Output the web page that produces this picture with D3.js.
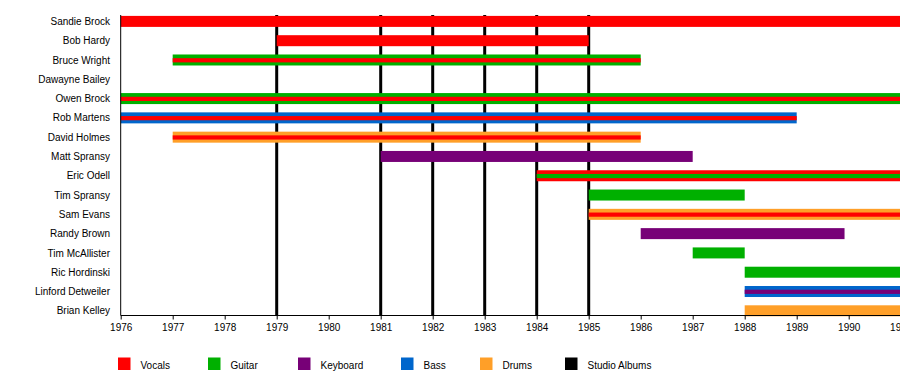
<!DOCTYPE html>
<html>
<head>
<meta charset="utf-8">
<script src="https://cdn.jsdelivr.net/npm/d3@7/dist/d3.min.js"></script>
<style>
  html, body { margin: 0; padding: 0; background: #fff; }
  svg { display: block; }
  text { font-family: "Liberation Sans", Arial, sans-serif; font-size: 10px; fill: #000; }
</style>
</head>
<body>
<svg id="chart" width="900" height="375"></svg>
<script>
// ---- data ----
const members = ["Sandie Brock", "Bob Hardy", "Bruce Wright", "Dawayne Bailey", "Owen Brock",
  "Rob Martens", "David Holmes", "Matt Spransy", "Eric Odell", "Tim Spransy", "Sam Evans",
  "Randy Brown", "Tim McAllister", "Ric Hordinski", "Linford Detweiler", "Brian Kelley"];

const roles = ["Vocals", "Guitar", "Keyboard", "Bass", "Drums", "Studio Albums"];
const roleColors = ["#ff0000", "#00b000", "#770077", "#0066cc", "#ff9f28", "#000000"];

// main bars: [member, role, start, end]
const mainBars = [
  ["Sandie Brock", "Vocals", 1976, 1991],
  ["Bob Hardy", "Vocals", 1979, 1985],
  ["Bruce Wright", "Guitar", 1977, 1986],
  ["Owen Brock", "Guitar", 1976, 1991],
  ["Rob Martens", "Bass", 1976, 1989],
  ["David Holmes", "Drums", 1977, 1986],
  ["Matt Spransy", "Keyboard", 1981, 1987],
  ["Eric Odell", "Vocals", 1984, 1991],
  ["Tim Spransy", "Guitar", 1985, 1988],
  ["Sam Evans", "Drums", 1985, 1991],
  ["Randy Brown", "Keyboard", 1986, 1989.92],
  ["Tim McAllister", "Guitar", 1987, 1988],
  ["Ric Hordinski", "Guitar", 1988, 1991],
  ["Linford Detweiler", "Bass", 1988, 1991],
  ["Brian Kelley", "Drums", 1988, 1991]
];

// inner stripes: [member, role, start, end]
const stripeBars = [
  ["Bruce Wright", "Vocals", 1977, 1986],
  ["Owen Brock", "Vocals", 1976, 1991],
  ["Rob Martens", "Vocals", 1976, 1989],
  ["David Holmes", "Vocals", 1977, 1986],
  ["Eric Odell", "Guitar", 1984, 1991],
  ["Sam Evans", "Vocals", 1985, 1991],
  ["Linford Detweiler", "Keyboard", 1988, 1991]
];

const albums = [1979, 1981, 1982, 1983, 1984, 1985];
const years = [1976, 1977, 1978, 1979, 1980, 1981, 1982, 1983, 1984, 1985, 1986, 1987, 1988, 1989, 1990, 1991];

// ---- drawing ----
const svg = d3.select("#chart");
const x = d3.scaleLinear().domain([1976, 1991]).range([120.7, 900.7]);
const y = d3.scalePoint().domain(members).range([21.4, 310.8]);
const color = d3.scaleOrdinal().domain(roles).range(roleColors);

const plotTop = 15, axisY = 315.5;
const barH = 11, stripeH = 4.2;

// album lines
svg.append("g").selectAll("line").data(albums).join("line")
  .attr("x1", d => x(d)).attr("x2", d => x(d))
  .attr("y1", plotTop).attr("y2", axisY)
  .attr("stroke", color("Studio Albums")).attr("stroke-width", 3);

// main bars
svg.append("g").selectAll("rect").data(mainBars).join("rect")
  .attr("x", d => x(d[2]))
  .attr("width", d => x(d[3]) - x(d[2]))
  .attr("y", d => y(d[0]) - barH / 2)
  .attr("height", barH)
  .attr("fill", d => color(d[1]));

// stripes
svg.append("g").selectAll("rect").data(stripeBars).join("rect")
  .attr("x", d => x(d[2]))
  .attr("width", d => x(d[3]) - x(d[2]))
  .attr("y", d => y(d[0]) - stripeH / 2 + 0.3)
  .attr("height", stripeH)
  .attr("fill", d => color(d[1]));

// member labels
svg.append("g").selectAll("text").data(members).join("text")
  .attr("x", 110).attr("y", d => y(d) + 3.6)
  .attr("text-anchor", "end")
  .text(d => d);

// left axis line
svg.append("line")
  .attr("x1", x(1976)).attr("x2", x(1976))
  .attr("y1", plotTop).attr("y2", axisY)
  .attr("stroke", "#000").attr("stroke-width", 1);

// bottom axis
const xAxis = d3.axisBottom(x).tickValues(years).tickFormat(d3.format("d")).tickSize(4).tickPadding(4);
const ax = svg.append("g").attr("transform", `translate(0,${axisY})`).call(xAxis);
ax.select(".domain").attr("stroke", "#000").attr("d", `M${x(1976)},0H${x(1991)}`);
ax.selectAll(".tick line").attr("stroke", "#000");
ax.selectAll(".tick text").attr("font-family", "Liberation Sans, Arial, sans-serif").attr("font-size", 10).attr("fill", "#000");

// legend
const legendX = [118, 208, 298, 401, 480, 565];
const lg = svg.append("g").selectAll("g").data(roles).join("g")
  .attr("transform", (d, i) => `translate(${legendX[i]},357.5)`);
lg.append("rect").attr("width", 12.5).attr("height", 12.5).attr("fill", d => color(d));
lg.append("text").attr("x", 22.5).attr("y", 11.2).text(d => d);
</script>
</body>
</html>
